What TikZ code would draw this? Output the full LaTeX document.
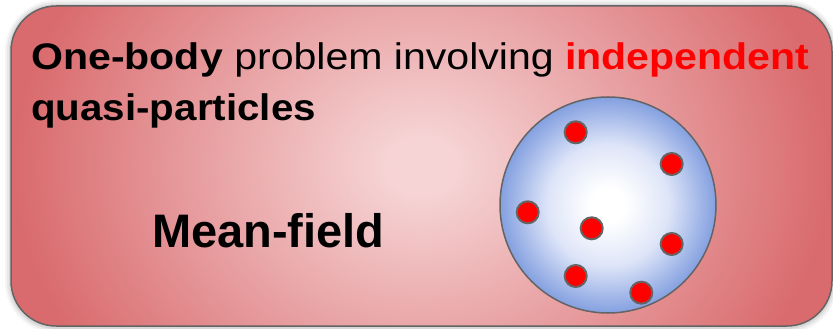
\documentclass[tikz,border=0pt]{standalone}
\usepackage{fontspec}
\setmainfont{Liberation Sans}
\definecolor{boxin}{RGB}{246,212,213}
\definecolor{boxout}{RGB}{217,106,109}
\definecolor{ballin}{RGB}{255,255,255}
\definecolor{ballmid}{RGB}{222,229,248}
\definecolor{ballout}{RGB}{132,160,224}
\definecolor{edgegray}{RGB}{100,100,100}
\definecolor{dotred}{RGB}{255,0,0}
\pgfdeclareradialshading{boxshade}{\pgfpoint{0bp}{0bp}}{color(0bp)=(boxin); color(2bp)=(boxin); color(25bp)=(boxout); color(50bp)=(boxout)}
\pgfdeclareradialshading{ballshade}{\pgfpoint{0bp}{0bp}}{color(0bp)=(ballin); color(4bp)=(ballin); color(14bp)=(ballmid); color(25bp)=(ballout); color(50bp)=(ballout)}
\tikzset{
  dot/.style={circle, draw=edgegray, line width=2pt, fill=dotred, minimum size=22pt, inner sep=0pt},
  ttext/.style={anchor=base west, inner sep=0pt, font=\fontsize{37}{40}\selectfont},
}
\begin{document}
\begin{tikzpicture}[x=1pt,y=-1pt]
\useasboundingbox (0,0) rectangle (833,329);
\fill[white] (0,0) rectangle (833,329);
% faint shadow
\foreach \e/\o in {6/0.04,4/0.05,2/0.07}{
  \fill[black,opacity=\o,rounded corners=45+\e] (11-\e,6-\e) rectangle (832+\e,327+\e);
}
\begin{scope}
  \clip[rounded corners=45] (11,6) rectangle (832,326);
  \shade[shading=boxshade] (11,-170) rectangle (832,502);
\end{scope}
\draw[draw=edgegray,line width=1.5pt,rounded corners=45] (11,6) rectangle (832,326);
\node[ttext] (l1) at (31,70) {\scalebox{1.11}[1]{\textbf{One-body} problem involving \textcolor{dotred}{\textbf{independent}}}};
\node[ttext] (l2) at (31,121) {\scalebox{1.09}[1]{\textbf{quasi-particles}}};
\node[anchor=base west, inner sep=0pt, font=\fontsize{47}{50}\selectfont\bfseries] (mf) at (152,247) {Mean-field};
\node[circle, draw=edgegray, line width=1.5pt, shading=ballshade, minimum size=216pt, inner sep=0pt] (ball) at (608,205) {};
\node[dot] (d1) at (575.7,132.3) {};
\node[dot] (d2) at (671.7,164) {};
\node[dot] (d3) at (527.7,212.3) {};
\node[dot] (d4) at (591.7,228.3) {};
\node[dot] (d5) at (671.7,244) {};
\node[dot] (d6) at (575.7,276) {};
\node[dot] (d7) at (641.3,292.7) {};
\end{tikzpicture}
\end{document}
